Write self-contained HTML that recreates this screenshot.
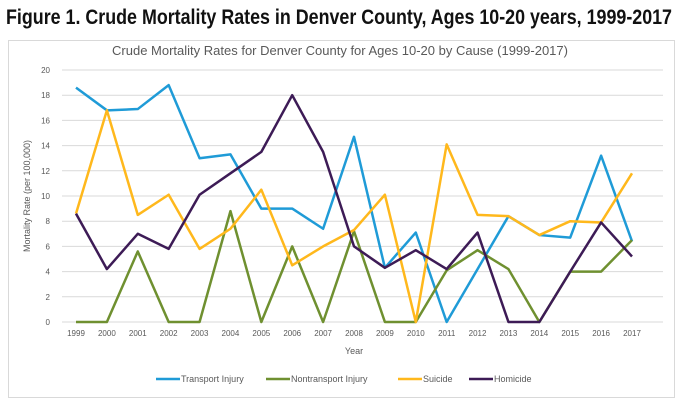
<!DOCTYPE html>
<html><head><meta charset="utf-8"><style>
body{margin:0;background:#fff;width:678px;height:401px;overflow:hidden;font-family:"Liberation Sans",sans-serif}
svg text{font-family:"Liberation Sans",sans-serif}
</style></head><body>
<svg id="c" width="678" height="401">
<text x="6" y="24" font-size="21" font-weight="bold" fill="#111" textLength="666" lengthAdjust="spacingAndGlyphs">Figure 1. Crude Mortality Rates in Denver County, Ages 10-20 years, 1999-2017</text>
<rect x="8.5" y="40.5" width="666" height="357" fill="#fff" stroke="#d9d9d9"/>
<text x="340" y="55" font-size="13" fill="#595959" text-anchor="middle">Crude Mortality Rates for Denver County for Ages 10-20 by Cause (1999-2017)</text>
<g id="grid"></g><g id="series"></g>
<text x="354" y="354" font-size="9" fill="#595959" text-anchor="middle">Year</text>
<text transform="translate(30,196) rotate(-90)" font-size="9" fill="#595959" text-anchor="middle">Mortality Rate (per 100,000)</text>
<g id="legend"></g>
</svg>
<script>
const years=[1999,2000,2001,2002,2003,2004,2005,2006,2007,2008,2009,2010,2011,2012,2013,2014,2015,2016,2017];
const transport=[18.6,16.8,16.9,18.8,13,13.3,9,9,7.4,14.7,4.3,7.1,0,4.2,8.4,6.9,6.7,13.2,6.4];
const nontransport=[0,0,5.6,0,0,8.8,0,6,0,7.2,0,0,4.1,5.7,4.2,0,4,4,6.5];
const suicide=[8.6,16.8,8.5,10.1,5.8,7.4,10.5,4.5,6,7.3,10.1,0,14.1,8.5,8.4,6.9,8,7.9,11.8];
const homicide=[8.6,4.2,7,5.8,10.1,11.8,13.5,18,13.5,6,4.3,5.7,4.2,7.1,0,0,4,7.9,5.2];
const yTicks=[0,2,4,6,8,10,12,14,16,18,20];
const seriesNames=["Transport Injury","Nontransport Injury","Suicide","Homicide"];
const NS="http://www.w3.org/2000/svg";
const X=i=>76+i*(632-76)/(years.length-1);
const Y=v=>322-v*(322-70)/20;
function mk(t,a,p){const e=document.createElementNS(NS,t);for(const k in a)e.setAttribute(k,a[k]);p.appendChild(e);return e;}
const grid=document.getElementById('grid');
yTicks.forEach(t=>{
 const l=mk('line',{x1:62,x2:663,y1:Y(t),y2:Y(t),stroke:'#d9d9d9','stroke-width':1},grid);
 
 
 const tx=mk('text',{x:50,y:Y(t)+3,'font-size':8,fill:'#595959','text-anchor':'end'},grid);tx.textContent=t;
 
 
});
years.forEach((y,i)=>{
 const tx=mk('text',{x:X(i),y:336,'font-size':8,fill:'#595959','text-anchor':'middle'},grid);tx.textContent=y;
 
 
});
const colors=['#1f9bd7','#6f9030','#ffb81c','#3d1b56'];
const data=[transport,nontransport,suicide,homicide];
const sg=document.getElementById('series');
data.forEach((d,s)=>{
 const p=mk('polyline',{points:d.map((v,i)=>X(i)+','+Y(v)).join(' '),fill:'none',stroke:colors[s],'stroke-width':2.5,'stroke-linejoin':'round'},sg);
 
 
});
const lg=document.getElementById('legend');
const lx=[156,266,398,469];
seriesNames.forEach((n,s)=>{
 const g=mk('g',{},lg);
 
 
 mk('line',{x1:lx[s],x2:lx[s]+24,y1:379,y2:379,stroke:colors[s],'stroke-width':2.5},g);
 const t=mk('text',{x:lx[s]+25,y:382,'font-size':9,fill:'#595959'},g);t.textContent=n;
});
</script>
</body></html>
